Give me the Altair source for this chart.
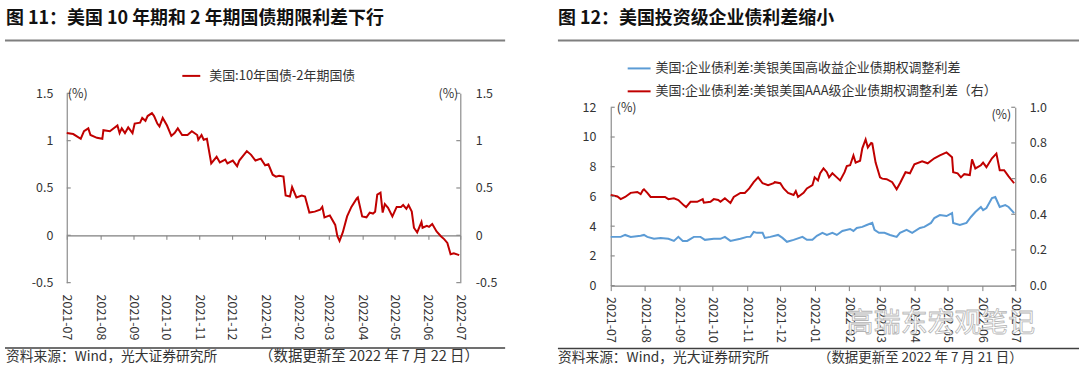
import altair as alt
import pandas as pd

# ---------------- Figure 11: US 10Y - 2Y treasury spread (%) ----------------
spread_dates = [
    "2021-07-01", "2021-07-07", "2021-07-14", "2021-07-17", "2021-07-21", "2021-07-23", "2021-07-29",
    "2021-08-03", "2021-08-04", "2021-08-10", "2021-08-17", "2021-08-19", "2021-08-21", "2021-08-24",
    "2021-08-27", "2021-08-31", "2021-09-02", "2021-09-07", "2021-09-09", "2021-09-12", "2021-09-14",
    "2021-09-18", "2021-09-20", "2021-09-23", "2021-09-25", "2021-09-28", "2021-10-02", "2021-10-06",
    "2021-10-09", "2021-10-12", "2021-10-16", "2021-10-21", "2021-10-25", "2021-10-30", "2021-10-31",
    "2021-11-03", "2021-11-05", "2021-11-08", "2021-11-12", "2021-11-17", "2021-11-20", "2021-11-25",
    "2021-11-27", "2021-12-02", "2021-12-06", "2021-12-08", "2021-12-15", "2021-12-19", "2021-12-23",
    "2021-12-28", "2022-01-01", "2022-01-04", "2022-01-08", "2022-01-11", "2022-01-14", "2022-01-18",
    "2022-01-20", "2022-01-24", "2022-01-26", "2022-01-30", "2022-02-04", "2022-02-07", "2022-02-11",
    "2022-02-16", "2022-02-21", "2022-02-23", "2022-02-25", "2022-03-02", "2022-03-07", "2022-03-09",
    "2022-03-11", "2022-03-14", "2022-03-18", "2022-03-22", "2022-03-27", "2022-03-28", "2022-04-01",
    "2022-04-05", "2022-04-08", "2022-04-11", "2022-04-13", "2022-04-15", "2022-04-18", "2022-04-20",
    "2022-04-22", "2022-04-25", "2022-04-29", "2022-05-03", "2022-05-07", "2022-05-09", "2022-05-12",
    "2022-05-14", "2022-05-17", "2022-05-19", "2022-05-22", "2022-05-26", "2022-05-27", "2022-05-31",
    "2022-06-02", "2022-06-05", "2022-06-09", "2022-06-13", "2022-06-16", "2022-06-19", "2022-06-22",
    "2022-06-25", "2022-06-30",
]
spread_values = [
    1.08, 1.07, 1.02, 1.10, 1.13, 1.06, 1.03,
    1.02, 1.11, 1.10, 1.16, 1.08, 1.13, 1.08,
    1.14, 1.08, 1.18, 1.19, 1.24, 1.21, 1.26,
    1.29, 1.26, 1.18, 1.15, 1.24, 1.16, 1.05,
    1.08, 1.13, 1.06, 1.06, 1.10, 1.06, 1.01,
    1.06, 1.01, 1.02, 0.76, 0.83, 0.77, 0.80,
    0.76, 0.79, 0.73, 0.79, 0.89, 0.85, 0.79,
    0.81, 0.74, 0.75, 0.64, 0.62, 0.63, 0.62,
    0.42, 0.41, 0.51, 0.40, 0.42, 0.41, 0.24,
    0.25, 0.27, 0.30, 0.19, 0.21, 0.11, -0.01,
    -0.06, 0.03, 0.20, 0.30, 0.39, 0.40, 0.20,
    0.19, 0.24, 0.23, 0.25, 0.43, 0.45, 0.24,
    0.33, 0.29, 0.20, 0.30, 0.30, 0.32, 0.28,
    0.32, 0.25, 0.08, 0.03, 0.14, 0.08, 0.10,
    0.09, 0.12, 0.04, -0.01, -0.04, -0.08, -0.20,
    -0.19, -0.21,
]

# ---------------- Figure 12: US corporate bond OAS (%) ----------------
hy_dates = [
    "2021-07-01", "2021-07-10", "2021-07-14", "2021-07-19", "2021-07-28", "2021-07-31", "2021-08-03",
    "2021-08-09", "2021-08-15", "2021-08-22", "2021-08-27", "2021-08-31", "2021-09-04", "2021-09-08",
    "2021-09-14", "2021-09-20", "2021-09-24", "2021-10-02", "2021-10-08", "2021-10-12", "2021-10-17",
    "2021-10-26", "2021-11-01", "2021-11-04", "2021-11-07", "2021-11-10", "2021-11-15", "2021-11-17",
    "2021-11-22", "2021-11-29", "2021-12-03", "2021-12-07", "2021-12-13", "2021-12-21", "2021-12-25",
    "2021-12-30", "2022-01-03", "2022-01-08", "2022-01-12", "2022-01-17", "2022-01-21", "2022-01-26",
    "2022-02-02", "2022-02-05", "2022-02-08", "2022-02-13", "2022-02-17", "2022-02-22", "2022-02-24",
    "2022-02-28", "2022-03-05", "2022-03-10", "2022-03-16", "2022-03-19", "2022-03-25", "2022-03-30",
    "2022-04-06", "2022-04-10", "2022-04-16", "2022-04-19", "2022-04-24", "2022-04-30", "2022-05-05",
    "2022-05-06", "2022-05-12", "2022-05-18", "2022-05-22", "2022-05-26", "2022-05-31", "2022-06-02",
    "2022-06-05", "2022-06-10", "2022-06-13", "2022-06-17", "2022-06-22", "2022-06-25", "2022-06-30",
]
hy_values = [
    3.28, 3.28, 3.41, 3.28, 3.35, 3.41, 3.28,
    3.15, 3.21, 3.15, 3.01, 3.28, 3.01, 3.01,
    3.28, 3.28, 3.08, 3.15, 3.15, 3.28, 3.01,
    3.15, 3.28, 3.28, 3.61, 3.55, 3.55, 3.21,
    3.28, 3.41, 3.21, 2.95, 3.08, 3.28, 3.08,
    3.08, 3.35, 3.55, 3.41, 3.55, 3.41, 3.68,
    3.81, 3.68, 3.88, 3.95, 4.08, 4.22, 3.75,
    3.55, 3.55, 3.41, 3.28, 3.55, 3.75, 3.55,
    3.88, 3.95, 4.22, 4.55, 4.75, 4.68, 4.88,
    4.22, 4.08, 4.22, 4.62, 4.95, 5.29, 5.08,
    5.22, 5.89, 5.96, 5.29, 5.42, 5.29, 4.88,
]
aaa_dates = [
    "2021-07-01", "2021-07-07", "2021-07-10", "2021-07-14", "2021-07-19", "2021-07-25", "2021-07-28",
    "2021-07-30", "2021-07-31", "2021-08-03", "2021-08-06", "2021-08-15", "2021-08-19", "2021-08-22",
    "2021-08-27", "2021-08-31", "2021-09-05", "2021-09-07", "2021-09-11", "2021-09-17", "2021-09-22",
    "2021-09-23", "2021-09-29", "2021-10-02", "2021-10-06", "2021-10-08", "2021-10-12", "2021-10-17",
    "2021-10-20", "2021-10-26", "2021-10-30", "2021-11-03", "2021-11-07", "2021-11-11", "2021-11-15",
    "2021-11-20", "2021-11-25", "2021-11-26", "2021-12-01", "2021-12-04", "2021-12-08", "2021-12-13",
    "2021-12-15", "2021-12-17", "2021-12-22", "2021-12-25", "2021-12-30", "2022-01-01", "2022-01-04",
    "2022-01-06", "2022-01-09", "2022-01-12", "2022-01-14", "2022-01-17", "2022-01-21", "2022-01-24",
    "2022-01-28", "2022-01-30", "2022-02-02", "2022-02-05", "2022-02-07", "2022-02-11", "2022-02-13",
    "2022-02-16", "2022-02-18", "2022-02-21", "2022-02-22", "2022-02-25", "2022-03-01", "2022-03-03",
    "2022-03-07", "2022-03-12", "2022-03-16", "2022-03-19", "2022-03-24", "2022-03-28", "2022-04-01",
    "2022-04-08", "2022-04-13", "2022-04-19", "2022-04-24", "2022-04-30", "2022-05-05", "2022-05-06",
    "2022-05-10", "2022-05-13", "2022-05-16", "2022-05-21", "2022-05-23", "2022-05-26", "2022-05-31",
    "2022-06-02", "2022-06-05", "2022-06-10", "2022-06-14", "2022-06-17", "2022-06-21", "2022-06-25",
    "2022-06-30",
]
aaa_values = [
    0.508, 0.500, 0.485, 0.497, 0.520, 0.525, 0.513,
    0.535, 0.540, 0.520, 0.497, 0.497, 0.497, 0.485,
    0.490, 0.480, 0.450, 0.440, 0.470, 0.470, 0.485,
    0.465, 0.470, 0.485, 0.480, 0.470, 0.490, 0.463,
    0.497, 0.520, 0.520, 0.545, 0.580, 0.607, 0.574,
    0.563, 0.574, 0.580, 0.574, 0.545, 0.520, 0.508,
    0.530, 0.497, 0.520, 0.545, 0.563, 0.607, 0.590,
    0.630, 0.657, 0.636, 0.607, 0.630, 0.607, 0.590,
    0.636, 0.670, 0.675, 0.730, 0.690, 0.700, 0.770,
    0.820, 0.775, 0.800, 0.797, 0.690, 0.607, 0.600,
    0.597, 0.580, 0.540, 0.574, 0.636, 0.630, 0.680,
    0.697, 0.686, 0.714, 0.730, 0.747, 0.720, 0.636,
    0.630, 0.607, 0.625, 0.620, 0.708, 0.657, 0.675,
    0.690, 0.664, 0.714, 0.740, 0.647, 0.647, 0.613,
    0.574,
]

# ---------------- axis ticks and texts ----------------
month_ticks = ["2021-07", "2021-08", "2021-09", "2021-10", "2021-11", "2021-12", "2022-01",
               "2022-02", "2022-03", "2022-04", "2022-05", "2022-06", "2022-07"]
spread_ticks = [-0.5, 0, 0.5, 1, 1.5]
hy_ticks = [0, 2, 4, 6, 8, 10, 12]
aaa_ticks = [0.0, 0.2, 0.4, 0.6, 0.8, 1.0]

title_11 = "图 11：美国 10 年期和 2 年期国债期限利差下行"
title_12 = "图 12：美国投资级企业债利差缩小"
legend_11 = "美国:10年国债-2年期国债"
legend_12_hy = "美国:企业债利差:美银美国高收益企业债期权调整利差"
legend_12_aaa = "美国:企业债利差:美银美国AAA级企业债期权调整利差（右）"
unit_label = "(%)"
source_text = "资料来源：Wind，光大证券研究所"
update_11 = "（数据更新至 2022 年 7 月 22 日）"
update_12 = "（数据更新至 2022 年 7 月 21 日）"
watermark = "高瑞东宏观笔记"

FONT = "Noto Sans CJK SC"
RED = "#C00000"
BLUE = "#5B9BD5"
AX = "#8c8c8c"
TXT = "#333333"
TITLE_SIZE = 18


def mdt(s):
    y, m = s.split("-")
    return alt.DateTime(year=int(y), month=int(m), date=1, utc=True)


x_domain = [mdt(month_ticks[0]), mdt(month_ticks[-1])]
x_values = [mdt(m) for m in month_ticks]


def x_enc(offset, pad, tick):
    return alt.X(
        "date:T",
        title=None,
        scale=alt.Scale(type="utc", domain=x_domain),
        axis=alt.Axis(orient="bottom", offset=offset, values=x_values, format="%Y-%m",
                      labelAngle=90, labelFlush=False, labelOverlap=False,
                      tickSize=tick, labelPadding=pad, domainColor="#7f7f7f", tickColor="#7f7f7f",
                      domainWidth=1.2, labelFont=FONT, labelFontSize=12.5, labelColor=TXT, grid=False),
    )


def y_axis(orient, values, pad, fmt=None, expr=None):
    kw = dict(orient=orient, values=values, ticks=False, tickSize=0, labelPadding=pad,
              domainColor=AX, domainWidth=1.2, labelFont=FONT, labelFontSize=12.5,
              labelColor=TXT, grid=False)
    if fmt is not None:
        kw["format"] = fmt
    if expr is not None:
        kw["labelExpr"] = expr
    return alt.Axis(**kw)


def text(s, x, y, size, color=TXT, weight="normal", align="left"):
    return alt.Chart(pd.DataFrame({"label": [s]})).mark_text(
        align=align, baseline="middle", font=FONT, fontSize=size, fontWeight=weight, color=color
    ).encode(x=alt.value(x), y=alt.value(y), text="label:N")


def outline_text(s, x, y, size):
    return alt.Chart(pd.DataFrame({"label": [s]})).mark_text(
        align="left", baseline="middle", font=FONT, fontSize=size, color="#ffffff",
        stroke="#b5b5b5", strokeWidth=0.8
    ).encode(x=alt.value(x), y=alt.value(y), text="label:N")


def hrule(x1, x2, y, color, width):
    return alt.Chart(pd.DataFrame({"k": [0]})).mark_rule(color=color, strokeWidth=width).encode(
        x=alt.value(x1), x2=alt.value(x2), y=alt.value(y))


def tick_rules(ticks, scale, x1, x2, axis):
    return alt.Chart(pd.DataFrame({"tick": ticks})).mark_rule(color=AX, strokeWidth=1.2).encode(
        y=alt.Y("tick:Q", scale=scale, axis=axis, title=None), x=alt.value(x1), x2=alt.value(x2))


# ---------------- left panel ----------------
W1, H1 = 395, 190
ys1 = alt.Scale(domain=[-0.5, 1.5], nice=False, zero=False)
df_spread = pd.DataFrame({"date": spread_dates, "value": spread_values})
lbl = "'' + datum.value"

line1 = alt.Chart(df_spread).mark_line(color=RED, strokeWidth=2).encode(
    x=x_enc(-47.5, 55, 4),
    y=alt.Y("value:Q", scale=ys1, title=None, axis=y_axis("left", spread_ticks, 14, expr=lbl)),
)
left_ticks1 = tick_rules(spread_ticks, ys1, 0, 4, None)
right_ticks1 = tick_rules(spread_ticks, ys1, W1 - 4, W1, y_axis("right", spread_ticks, 15, expr=lbl))

panel1 = alt.layer(
    line1, left_ticks1, right_ticks1,
    text(title_11, -61, -75, TITLE_SIZE, color="#111111", weight="bold"),
    hrule(-62, 440, -53, "#7f7f7f", 2),
    hrule(116, 134, -17.5, RED, 2),
    text(legend_11, 143, -17.5, 13),
    text(unit_label, 1, 1, 12.5),
    text(unit_label, 393, 1, 12.5, align="right"),
    hrule(-62, 440, 255.5, "#404040", 1.5),
    text(source_text, -61, 265, 13.8),
    text(update_11, 193, 265, 14.5),
).resolve_axis(y="independent").properties(width=W1, height=H1)

# ---------------- right panel ----------------
# view spans from the top of the left plot; the plot itself starts 14 px lower
W2, H2, TOP2 = 406, 193, 14
ys_hy = alt.Scale(domain=[0, 12], range=[H2, TOP2], nice=False, zero=False)
ys_aaa = alt.Scale(domain=[0, 1], range=[H2, TOP2], nice=False, zero=False)
df_hy = pd.DataFrame({"date": hy_dates, "value": hy_values})
df_aaa = pd.DataFrame({"date": aaa_dates, "value": aaa_values})

line_hy = alt.Chart(df_hy).mark_line(color=BLUE, strokeWidth=2).encode(
    x=x_enc(0, 6, 5),
    y=alt.Y("value:Q", scale=ys_hy, title=None, axis=y_axis("left", hy_ticks, 15, fmt="d")),
)
line_aaa = alt.Chart(df_aaa).mark_line(color=RED, strokeWidth=2).encode(
    x=x_enc(0, 6, 5),
    y=alt.Y("value:Q", scale=ys_aaa, title=None, axis=None),
)
left_ticks2 = tick_rules(hy_ticks, ys_hy, 0, 4, None)
right_ticks2 = tick_rules(aaa_ticks, ys_aaa, W2 - 4, W2, y_axis("right", aaa_ticks, 14, fmt=".1f"))

panel2 = alt.layer(
    line_hy, line_aaa, left_ticks2, right_ticks2,
    outline_text(watermark, 237, 232, 27),
    text(title_12, -53, -75, TITLE_SIZE, color="#111111", weight="bold"),
    hrule(-53, 470, -53, "#7f7f7f", 2),
    hrule(17, 40, -25, BLUE, 2),
    text(legend_12_hy, 45, -25, 13),
    hrule(17, 40, -2, RED, 2),
    text(legend_12_aaa, 45, -2, 13),
    text(unit_label, 6, 15, 12.5),
    text(unit_label, 402, 22, 12.5, align="right"),
    hrule(-53, 470, 256, "#404040", 1.5),
    text(source_text, -53, 266, 13.8),
    text(update_12, 208, 266, 13.5),
).resolve_scale(y="independent").resolve_axis(y="independent").properties(width=W2, height=H2)

chart = alt.hconcat(panel1, panel2, spacing=51).properties(
    padding={"left": 4, "top": 9, "right": 0, "bottom": 0},
    background="white",
).configure_view(strokeWidth=0)

chart.save("out.html", embed_options={"renderer": "svg", "actions": False})
